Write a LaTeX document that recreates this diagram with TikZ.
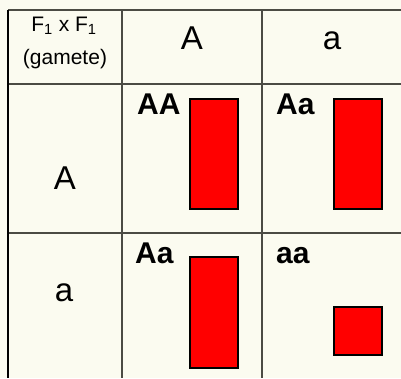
\documentclass[tikz,border=0pt]{standalone}
\usepackage{fontspec}
\setmainfont{Liberation Sans}
\usepackage{tikz}
\definecolor{paper}{RGB}{251,251,240}
\definecolor{gridgray}{RGB}{75,75,68}
\tikzset{
  cellline/.style={draw=gridgray, line width=1.5pt},
  genebar/.style={fill=red, draw=black, line width=2pt},
  allele/.style={inner sep=0pt, anchor=base, font=\fontsize{33}{38}\selectfont},
  geno/.style={inner sep=0pt, anchor=base west, font=\fontsize{30}{34}\selectfont\bfseries},
  headtxt/.style={inner sep=0pt, anchor=base, font=\fontsize{21}{25}\selectfont}
}
\begin{document}
\begin{tikzpicture}[x=1pt, y=-1pt]
\fill[paper] (0,0) rectangle (401,378);
\useasboundingbox (0,0) rectangle (401,378);
% table lines
\draw[cellline] (8,10) -- (401,10);
\draw[cellline] (8,84) -- (401,84);
\draw[cellline] (8,233) -- (401,233);
\draw[cellline] (122,10) -- (122,378);
\draw[cellline] (262,10) -- (262,378);
\draw[draw=black, line width=1.5pt] (8,10) -- (8,378);
% header
\node[headtxt] (cross) at (64,31) {F\textsubscript{1} x F\textsubscript{1}};
\node[headtxt] (gam) at (65,64) {(gamete)};
\node[allele] (colA) at (192,49) {A};
\node[allele] (cola) at (332,49) {a};
\node[allele] (rowA) at (65,189) {A};
\node[allele] (rowa) at (64,301) {a};
% genotypes
\node[geno] (gAA) at (137,114) {AA};
\node[geno] (gAa1) at (276,114) {Aa};
\node[geno] (gAa2) at (135,263) {Aa};
\node[geno] (gaa) at (276,263) {aa};
% bars
\draw[genebar] (190,99) rectangle (238,209);
\draw[genebar] (334,99) rectangle (382,209);
\draw[genebar] (190,257) rectangle (238,368);
\draw[genebar] (334,307) rectangle (382,355);
\end{tikzpicture}
\end{document}
